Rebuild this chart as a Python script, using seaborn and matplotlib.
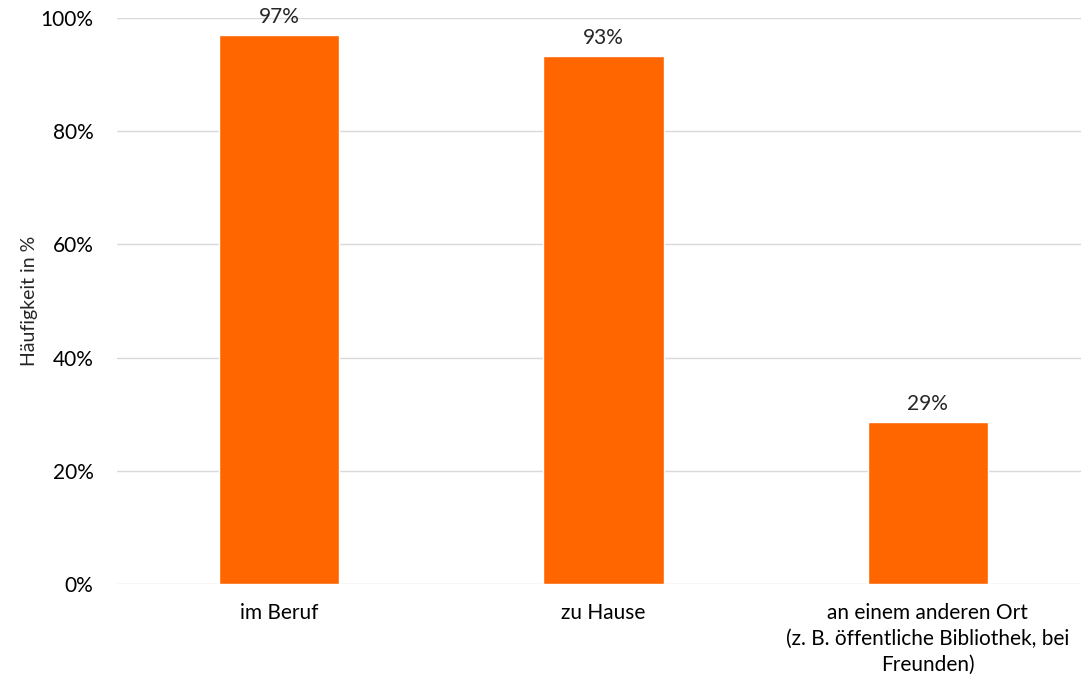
import matplotlib
matplotlib.use('Agg')
import matplotlib.pyplot as plt
import seaborn as sns
import pandas as pd
from matplotlib.ticker import PercentFormatter

# Data
categories = [
    'im Beruf',
    'zu Hause',
    'an einem anderen Ort\n(z. B. öffentliche Bibliothek, bei\nFreunden)',
]
values = [97.0, 93.3, 28.6]

df = pd.DataFrame({'Ort': categories, 'Wert': values})

sns.set_theme(style='white')
plt.rcParams['font.family'] = ['Lato', 'DejaVu Sans']

fig = plt.figure(figsize=(10.81, 6.83), dpi=100)
ax = fig.add_axes([117 / 1081, 1 - 584 / 683, 973 / 1081, 566 / 683])

sns.barplot(data=df, x='Ort', y='Wert', color='#FF6600', width=0.37,
            saturation=1, ax=ax, zorder=3)

ax.set_ylim(0, 100)
ax.set_yticks(range(0, 101, 20))
ax.yaxis.set_major_formatter(PercentFormatter(decimals=0))
ax.grid(axis='y', color='#D9D9D9', linewidth=1, zorder=0)
ax.set_axisbelow(True)
for s in ax.spines.values():
    s.set_visible(False)

ax.tick_params(axis='both', length=0, labelsize=15, colors='#000000')
ax.tick_params(axis='y', pad=17)
ax.tick_params(axis='x', pad=14)
for lbl in ax.get_xticklabels():
    lbl.set_linespacing(1.35)
ax.set_xlabel('')
ax.set_ylabel('Häufigkeit in %', fontsize=14, labelpad=2)

for c in ax.containers:
    ax.bar_label(c, fmt='%.0f%%', padding=6, fontsize=15)

fig.savefig('out.png', dpi=100)
